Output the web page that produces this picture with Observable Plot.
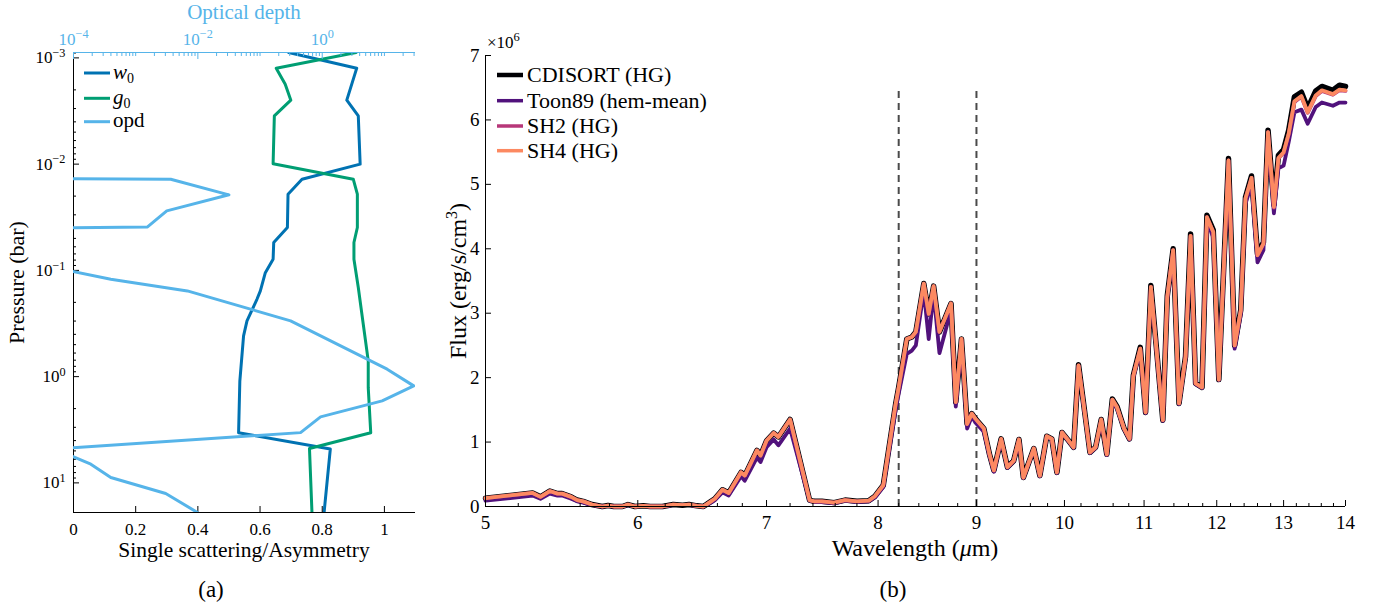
<!DOCTYPE html>
<html><head><meta charset="utf-8">
<script src="https://cdn.jsdelivr.net/npm/d3@7"></script>
<script src="https://cdn.jsdelivr.net/npm/@observablehq/plot@0.6"></script>
<style>
body{margin:0;background:#fff;}
#root{position:relative;width:1385px;height:611px;overflow:hidden;background:#fff;}
</style></head><body><div id="root"></div>
<script>
// ---------------- Panel (a) data ----------------
const w0Pressure = [8.9e-4, 1.25e-3, 2.5e-3, 3.52e-3, 1.0e-2, 1.39e-2, 1.92e-2, 3.95e-2, 5.47e-2, 7.85e-2, 0.105, 0.156, 0.187, 0.299, 0.413, 1.10, 3.37, 4.80, 19.0];
const w0Values   = [0.692, 0.911, 0.879, 0.916, 0.922, 0.735, 0.690, 0.688, 0.644, 0.642, 0.617, 0.601, 0.590, 0.558, 0.547, 0.535, 0.531, 0.826, 0.806];
const g0Pressure = [8.9e-4, 1.25e-3, 1.77e-3, 2.5e-3, 3.52e-3, 9.9e-3, 1.39e-2, 1.92e-2, 3.95e-2, 5.47e-2, 7.85e-2, 0.145, 0.321, 0.711, 1.27, 3.37, 4.75, 19.0];
const g0Values   = [0.909, 0.652, 0.681, 0.699, 0.646, 0.642, 0.900, 0.913, 0.913, 0.902, 0.902, 0.916, 0.932, 0.948, 0.948, 0.956, 0.759, 0.767];
const opdPressure = [0.01349, 0.01387, 0.01945, 0.02754, 0.0390, 0.04093, 0.0893, 0.1211, 0.156, 0.2985, 0.851, 1.222, 1.690, 2.393, 3.365, 5.09, 4.285, 6.67, 8.91, 12.59, 18.97];
const opdValues   = [1e-6, 3.66e-3, 3.16e-2, 3.16e-3, 1.55e-3, 1e-6, 3.16e-5, 3.98e-4, 6.78e-3, 0.31, 11.07, 29.6, 9.20, 0.94, 0.448, 1e-5, 3.16e-5, 1.9e-4, 3.98e-4, 3.04e-3, 9.82e-3];
const aXTicks = [0, 0.2, 0.4, 0.6, 0.8, 1];
const aYTicks = [1e-3, 1e-2, 1e-1, 1, 10];
const aTopTicks = [1e-4, 1e-2, 1];
const aLegend = ["w0", "g0", "opd"];

// ---------------- Panel (b) data ----------------
const wavelength = [5.00,5.29,5.34,5.40,5.45,5.48,5.54,5.58,5.62,5.68,5.75,5.79,5.83,5.89,5.93,5.98,6.04,6.09,6.18,6.26,6.33,6.38,6.44,6.49,6.55,6.58,6.64,6.69,6.79,6.82,6.92,6.95,7.00,7.06,7.10,7.20,7.37,7.41,7.48,7.59,7.69,7.80,7.91,7.97,8.05,8.17,8.20,8.28,8.33,8.37,8.45,8.50,8.55,8.61,8.73,8.78,8.84,8.90,8.95,8.99,9.08,9.14,9.19,9.27,9.34,9.41,9.47,9.52,9.64,9.71,9.79,9.85,9.91,9.97,10.05,10.11,10.17,10.31,10.38,10.45,10.52,10.59,10.65,10.74,10.81,10.86,10.95,11.02,11.09,11.25,11.31,11.39,11.47,11.56,11.63,11.70,11.79,11.86,11.95,12.03,12.17,12.26,12.35,12.42,12.51,12.60,12.69,12.76,12.85,12.92,13.00,13.08,13.17,13.28,13.38,13.51,13.61,13.79,13.90,14.00];
const fluxSH4 = [0.13,0.21,0.15,0.24,0.20,0.20,0.15,0.10,0.08,0.03,0.00,0.015,0.00,0.00,0.03,0.00,0.01,0.00,0.00,0.03,0.02,0.03,0.01,0.00,0.08,0.12,0.26,0.21,0.53,0.48,0.87,0.79,1.02,1.14,1.08,1.35,0.10,0.08,0.08,0.06,0.10,0.08,0.09,0.16,0.33,1.59,1.85,2.60,2.63,2.71,3.46,2.99,3.42,2.71,3.15,1.62,2.60,1.28,1.44,1.36,1.21,0.82,0.56,1.05,0.61,0.71,1.04,0.45,0.90,0.48,1.09,1.05,0.53,1.15,1.02,0.92,2.19,0.84,0.92,1.35,0.81,1.66,1.54,1.21,1.05,2.03,2.45,1.46,3.41,1.34,3.25,3.98,1.60,2.32,4.20,1.91,1.85,4.49,4.26,1.97,5.37,2.50,3.04,4.78,5.10,3.90,4.08,5.81,4.65,5.41,5.50,5.79,6.29,6.37,6.12,6.38,6.46,6.40,6.47,6.46];
const fluxSH2 = [0.13,0.21,0.15,0.24,0.20,0.20,0.15,0.10,0.08,0.03,0.00,0.015,0.00,0.00,0.03,0.00,0.01,0.00,0.00,0.03,0.02,0.03,0.01,0.00,0.08,0.12,0.26,0.21,0.53,0.48,0.87,0.79,1.02,1.14,1.08,1.35,0.10,0.08,0.08,0.06,0.10,0.08,0.09,0.16,0.33,1.59,1.85,2.60,2.63,2.71,3.46,2.99,3.42,2.71,3.15,1.62,2.60,1.28,1.44,1.36,1.21,0.82,0.56,1.05,0.61,0.71,1.04,0.45,0.90,0.48,1.09,1.05,0.53,1.15,1.02,0.92,2.19,0.84,0.92,1.35,0.81,1.66,1.54,1.21,1.05,2.03,2.45,1.46,3.41,1.34,3.25,3.98,1.60,2.32,4.20,1.91,1.85,4.49,4.26,1.97,5.37,2.50,3.04,4.78,5.10,3.90,4.08,5.81,4.64,5.40,5.49,5.78,6.28,6.36,6.11,6.37,6.45,6.39,6.46,6.45];
const fluxToon89 = [0.09,0.17,0.12,0.20,0.17,0.17,0.12,0.08,0.06,0.02,0.00,0.01,0.00,0.00,0.02,0.00,0.01,0.00,0.00,0.02,0.02,0.02,0.01,0.00,0.06,0.10,0.22,0.17,0.47,0.40,0.76,0.69,0.92,1.04,0.95,1.21,0.09,0.07,0.07,0.05,0.09,0.07,0.08,0.14,0.30,1.50,1.75,2.37,2.42,2.50,3.35,2.60,3.32,2.38,3.05,1.55,2.55,1.21,1.40,1.30,1.16,0.79,0.54,1.03,0.60,0.70,1.02,0.44,0.89,0.47,1.08,1.04,0.52,1.14,1.01,0.91,2.17,0.83,0.91,1.33,0.80,1.64,1.52,1.20,1.04,2.01,2.42,1.45,3.38,1.33,3.22,3.95,1.59,2.30,4.16,1.90,1.84,4.43,4.18,1.96,5.30,2.45,2.98,4.70,5.00,3.79,3.98,5.76,4.55,5.25,5.29,5.66,6.12,6.16,5.94,6.20,6.27,6.22,6.27,6.27];
const fluxCDISORT = [0.13,0.21,0.15,0.24,0.20,0.20,0.15,0.10,0.08,0.03,0.00,0.015,0.00,0.00,0.03,0.00,0.01,0.00,0.00,0.03,0.02,0.03,0.01,0.00,0.08,0.12,0.26,0.21,0.53,0.48,0.87,0.79,1.02,1.14,1.08,1.35,0.10,0.08,0.08,0.06,0.10,0.08,0.09,0.16,0.33,1.59,1.85,2.60,2.63,2.71,3.46,2.99,3.42,2.71,3.15,1.62,2.60,1.28,1.44,1.36,1.21,0.82,0.56,1.05,0.61,0.71,1.04,0.45,0.90,0.48,1.09,1.05,0.53,1.15,1.02,0.92,2.20,0.84,0.92,1.35,0.81,1.67,1.55,1.21,1.05,2.04,2.47,1.46,3.43,1.34,3.27,4.00,1.60,2.33,4.23,1.91,1.85,4.52,4.29,1.97,5.40,2.50,3.05,4.80,5.13,3.92,4.10,5.84,4.68,5.45,5.54,5.84,6.36,6.43,6.18,6.45,6.52,6.46,6.54,6.52];
const seriesNames = ["CDISORT (HG)", "Toon89 (hem-mean)", "SH2 (HG)", "SH4 (HG)"];
const seriesColors = ["#000004", "#51127c", "#b73779", "#fc8961"];
const dashedAt = [8.2, 9.0];
const bXTicks = [5, 6, 7, 8, 9, 10, 11, 12, 13, 14];
const bYTicks = [0, 1, 2, 3, 4, 5, 6, 7];

// ---------------- drawing ----------------
const FONT = '"Liberation Serif","DejaVu Serif",serif';
const C_W0 = "#0072B2", C_G0 = "#009E73", C_OPD = "#56B4E9";
const root = document.getElementById("root");
const SVGNS = "http://www.w3.org/2000/svg";

function supFmt(v) { const e = Math.round(Math.log10(v)); return "10^" + (e < 0 ? "\u2212" + (-e) : String(e)); }
function supify(svg) {
  svg.querySelectorAll("text").forEach(t => {
    const s = t.textContent;
    if (!s.includes("^")) return;
    const [b, e] = s.split("^");
    t.textContent = b;
    const ts = document.createElementNS(SVGNS, "tspan");
    ts.setAttribute("dy", "-0.5em");
    ts.setAttribute("font-size", "0.72em");
    ts.textContent = e;
    t.appendChild(ts);
  });
}
function place(svg, left) {
  svg.style.position = "absolute"; svg.style.left = left + "px"; svg.style.top = "0px";
  supify(svg); root.appendChild(svg);
}
const baseStyle = {fontFamily: FONT, fontSize: "17px", background: "transparent", overflow: "visible", color: "#000"};

// panel (a)
const aW = 430, aH = 611;
const aFrame = {width: aW, height: aH, marginLeft: 73, marginRight: aW - 415, marginTop: 52, marginBottom: aH - 512};
const yA = {type: "log", domain: [8.9e-4, 19], reverse: true, label: null};
const yMinorA = [];
for (let e = -4; e <= 1; e++) for (let m = 2; m <= 9; m++) { const v = m * 10 ** e; if (v >= 8.9e-4 && v <= 19) yMinorA.push(v); }
const topMinorA = [];
for (let e = -4; e <= 1; e++) for (let m = 1; m <= 9; m++) { const v = m * 10 ** e; if (v >= 1e-4 && v <= 10 ** 1.5 && !aTopTicks.some(t => Math.abs(t - v) / t < 1e-6)) topMinorA.push(v); }

const w0Data = w0Pressure.map((p, i) => ({p, v: w0Values[i]}));
const g0Data = g0Pressure.map((p, i) => ({p, v: g0Values[i]}));
const opdData = opdPressure.map((p, i) => ({p, t: opdValues[i]}));

const plotA = Plot.plot({
  ...aFrame, style: baseStyle,
  x: {domain: [0, 1.1], label: null}, y: yA,
  marks: [
    Plot.line(w0Data, {x: "v", y: "p", stroke: C_W0, strokeWidth: 3, clip: true}),
    Plot.line(g0Data, {x: "v", y: "p", stroke: C_G0, strokeWidth: 3, clip: true}),
    Plot.ruleX([0], {stroke: "#000", strokeWidth: 1}),
    Plot.ruleY([19], {stroke: "#000", strokeWidth: 1}),
    Plot.axisX({ticks: aXTicks, tickFormat: d => String(d), tickSize: -6, tickPadding: 16, fontSize: 17, label: null}),
    Plot.axisY({ticks: aYTicks, tickFormat: supFmt, tickSize: -6, tickPadding: 14, fontSize: 17, label: null}),
    Plot.axisY({ticks: yMinorA, tickFormat: () => "", tickSize: -3, label: null})
  ]
});
place(plotA, 0);

const plotAtop = Plot.plot({
  ...aFrame, style: baseStyle,
  x: {type: "log", domain: [1e-4, 10 ** 1.5], label: null}, y: {...yA, axis: null},
  marks: [
    Plot.line(opdData, {x: "t", y: "p", stroke: C_OPD, strokeWidth: 3, clip: true}),
    Plot.ruleY([8.9e-4], {stroke: C_OPD, strokeWidth: 1}),
    Plot.axisX({anchor: "top", ticks: aTopTicks, tickFormat: supFmt, tickSize: -6, tickPadding: 14, fontSize: 17, color: C_OPD, label: null}),
    Plot.axisX({anchor: "top", ticks: topMinorA, tickFormat: () => "", tickSize: -3, color: C_OPD, label: null})
  ]
});
place(plotAtop, 0);

// panel (b)
const bRows = [];
[fluxCDISORT, fluxToon89, fluxSH2, fluxSH4].forEach((arr, s) => arr.forEach((f, i) => bRows.push({lam: wavelength[i], flux: f, s})));
const bXMinor = d3.range(50, 141, 2).map(v => v / 10).filter(v => Math.abs(v - Math.round(v)) > 1e-6);
const plotB = Plot.plot({
  width: 945, height: 611, marginLeft: 45, marginRight: 40, marginTop: 55, marginBottom: 105, style: baseStyle,
  x: {type: "log", domain: [5, 14], label: null}, y: {domain: [0, 7], label: null},
  marks: [
    Plot.ruleX(dashedAt, {y1: 0, y2: 6.5, stroke: "#4a4a4a", strokeWidth: 2, strokeDasharray: "7,5"}),
    ...seriesNames.map((n, s) => Plot.line(bRows.filter(r => r.s === s), {x: "lam", y: "flux", stroke: seriesColors[s], strokeWidth: s === 0 ? 5.5 : 3.8})),
    Plot.ruleX([5], {stroke: "#000", strokeWidth: 1}),
    Plot.ruleY([0], {stroke: "#000", strokeWidth: 1}),
    Plot.axisX({ticks: bXTicks, tickFormat: d => String(d), tickSize: -6, tickPadding: 15, fontSize: 19, label: null}),
    Plot.axisX({ticks: bXMinor, tickFormat: () => "", tickSize: -3, label: null}),
    Plot.axisY({ticks: bYTicks, tickFormat: d => String(d), tickSize: -6, tickPadding: 12, fontSize: 19, label: null})
  ]
});
place(plotB, 440);

// annotations: labels, legends, captions
let ann = `<svg xmlns="${SVGNS}" width="1385" height="611" style="position:absolute;left:0;top:0;font-family:${FONT.replace(/"/g, "'")}">`;
ann += `<text x="244" y="19" text-anchor="middle" font-size="21" fill="${C_OPD}">Optical depth</text>`;
ann += `<text transform="translate(24,282.5) rotate(-90)" text-anchor="middle" font-size="22">Pressure (bar)</text>`;
ann += `<text x="244" y="556.5" text-anchor="middle" font-size="21.5">Single scattering/Asymmetry</text>`;
ann += `<text x="211" y="597" text-anchor="middle" font-size="23">(a)</text>`;
ann += `<text x="893" y="597" text-anchor="middle" font-size="23">(b)</text>`;
ann += `<text x="915" y="556" text-anchor="middle" font-size="24">Wavelength (<tspan font-style="italic">\u03bc</tspan>m)</text>`;
ann += `<text transform="translate(466,281) rotate(-90)" text-anchor="middle" font-size="24">Flux (erg/s/cm<tspan dy="-9" font-size="16">3</tspan><tspan dy="9">)</tspan></text>`;
ann += `<text x="487" y="48" font-size="17">\u00d710<tspan dy="-7" font-size="12.5">6</tspan></text>`;
// left legend
const aLegY = [73, 98.3, 121.7], aLegC = [C_W0, C_G0, C_OPD];
aLegend.forEach((n, i) => {
  ann += `<line x1="84" x2="110" y1="${aLegY[i]}" y2="${aLegY[i]}" stroke="${aLegC[i]}" stroke-width="3"/>`;
  const label = n === "opd" ? "opd" : `<tspan font-style="italic">${n[0]}</tspan><tspan font-size="14" dy="4">${n.slice(1)}</tspan>`;
  ann += `<text x="113" y="${aLegY[i] + 5.5}" font-size="21">${label}</text>`;
});
// right legend
const bLegY = [75, 100.7, 126, 150.7];
seriesNames.forEach((n, i) => {
  ann += `<line x1="497" x2="523" y1="${bLegY[i]}" y2="${bLegY[i]}" stroke="${seriesColors[i]}" stroke-width="${i === 0 ? 4.5 : 3.5}"/>`;
  ann += `<text x="527" y="${bLegY[i] + 7}" font-size="22">${n}</text>`;
});
ann += `</svg>`;
root.insertAdjacentHTML("beforeend", ann);
</script>
</body></html>
